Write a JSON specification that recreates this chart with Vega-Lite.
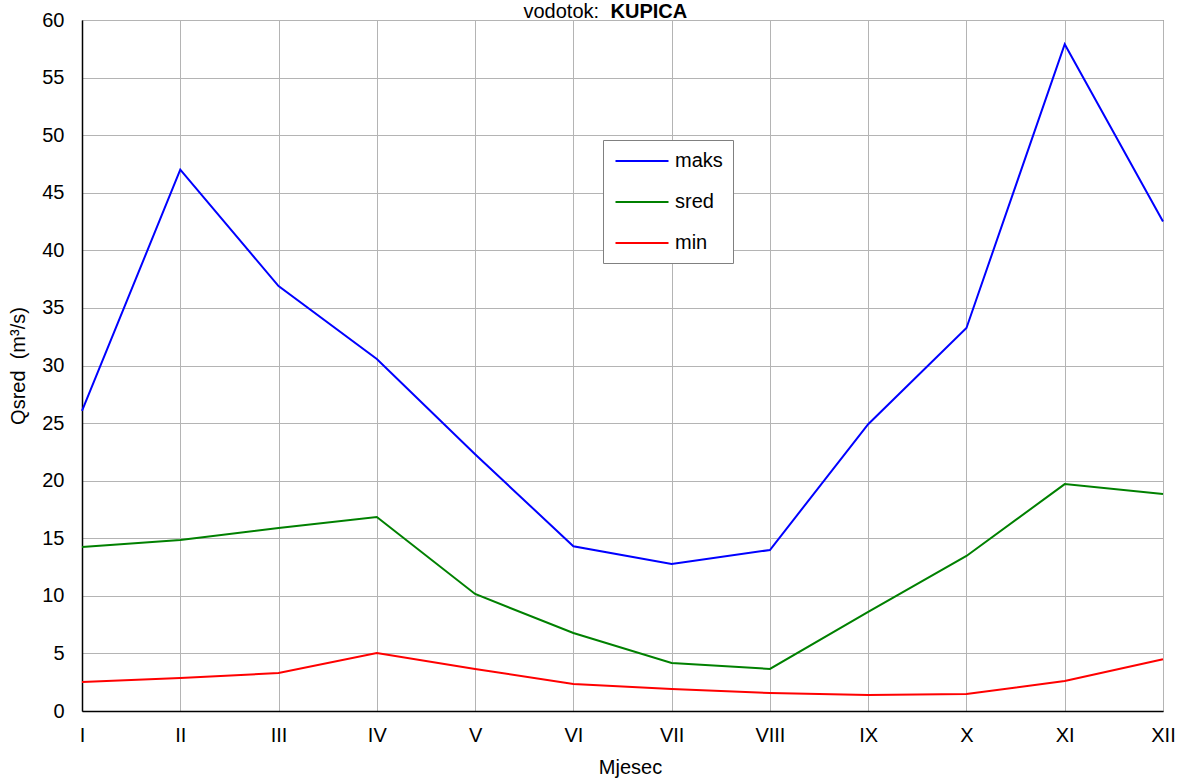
{
  "$schema": "https://vega.github.io/schema/vega-lite/v6.json",
  "autosize": "none",
  "width": 1081,
  "height": 691,
  "padding": {"left": 82, "top": 20, "right": 16, "bottom": 70},
  "background": "white",
  "config": {
    "font": "Liberation Sans",
    "view": {"stroke": "#555555", "strokeWidth": 1},
    "axis": {
      "labelFont": "Liberation Sans",
      "titleFont": "Liberation Sans",
      "labelColor": "black",
      "titleColor": "black",
      "labelFontSize": 20,
      "titleFontSize": 20,
      "titleFontWeight": "normal",
      "gridColor": "#b4b4b4",
      "gridWidth": 1,
      "gridOpacity": 1,
      "ticks": false,
      "domainColor": "black",
      "domainWidth": 1.5
    }
  },
  "data": {
    "values": [
      {"mjesec": "I", "serija": "maks", "q": 26.05},
      {"mjesec": "II", "serija": "maks", "q": 47.0},
      {"mjesec": "III", "serija": "maks", "q": 36.9},
      {"mjesec": "IV", "serija": "maks", "q": 30.56},
      {"mjesec": "V", "serija": "maks", "q": 22.3},
      {"mjesec": "VI", "serija": "maks", "q": 14.3},
      {"mjesec": "VII", "serija": "maks", "q": 12.76},
      {"mjesec": "VIII", "serija": "maks", "q": 13.98},
      {"mjesec": "IX", "serija": "maks", "q": 24.9},
      {"mjesec": "X", "serija": "maks", "q": 33.26},
      {"mjesec": "XI", "serija": "maks", "q": 57.9},
      {"mjesec": "XII", "serija": "maks", "q": 42.5},
      {"mjesec": "I", "serija": "sred", "q": 14.24},
      {"mjesec": "II", "serija": "sred", "q": 14.85},
      {"mjesec": "III", "serija": "sred", "q": 15.9},
      {"mjesec": "IV", "serija": "sred", "q": 16.85},
      {"mjesec": "V", "serija": "sred", "q": 10.16},
      {"mjesec": "VI", "serija": "sred", "q": 6.77},
      {"mjesec": "VII", "serija": "sred", "q": 4.17},
      {"mjesec": "VIII", "serija": "sred", "q": 3.65},
      {"mjesec": "IX", "serija": "sred", "q": 8.6},
      {"mjesec": "X", "serija": "sred", "q": 13.46},
      {"mjesec": "XI", "serija": "sred", "q": 19.7},
      {"mjesec": "XII", "serija": "sred", "q": 18.84},
      {"mjesec": "I", "serija": "min", "q": 2.52},
      {"mjesec": "II", "serija": "min", "q": 2.87},
      {"mjesec": "III", "serija": "min", "q": 3.3},
      {"mjesec": "IV", "serija": "min", "q": 5.04},
      {"mjesec": "V", "serija": "min", "q": 3.65},
      {"mjesec": "VI", "serija": "min", "q": 2.34},
      {"mjesec": "VII", "serija": "min", "q": 1.91},
      {"mjesec": "VIII", "serija": "min", "q": 1.56},
      {"mjesec": "IX", "serija": "min", "q": 1.39},
      {"mjesec": "X", "serija": "min", "q": 1.48},
      {"mjesec": "XI", "serija": "min", "q": 2.6},
      {"mjesec": "XII", "serija": "min", "q": 4.5}
    ]
  },
  "resolve": {"axis": {"x": "independent", "y": "independent"}},
  "layer": [
    {
      "mark": {"type": "line", "strokeWidth": 2},
      "encoding": {
        "x": {
          "field": "mjesec",
          "type": "ordinal",
          "sort": ["I", "II", "III", "IV", "V", "VI", "VII", "VIII", "IX", "X", "XI", "XII"],
          "scale": {"type": "point", "padding": 0},
          "axis": {
            "title": "Mjesec",
            "labelAngle": 0,
            "labelPadding": 14,
            "titlePadding": 12,
            "titleX": 548,
            "titleAlign": "center",
            "grid": true
          }
        },
        "y": {
          "field": "q",
          "type": "quantitative",
          "scale": {"domain": [0, 60], "nice": false, "zero": true},
          "axis": {
            "title": "Qsred\u00a0\u00a0(m³/s)",
            "values": [0, 5, 10, 15, 20, 25, 30, 35, 40, 45, 50, 55, 60],
            "labelPadding": 18,
            "titlePadding": 13,
            "grid": true
          }
        },
        "color": {
          "field": "serija",
          "type": "nominal",
          "scale": {"domain": ["maks", "sred", "min"], "range": ["#0000ff", "#008000", "#ff0000"]},
          "legend": {
            "title": null,
            "orient": "none",
            "legendX": 521,
            "legendY": 120,
            "fillColor": "white",
            "strokeColor": "#808080",
            "padding": 10,
            "symbolType": "M-2.65,0H2.65",
            "symbolSize": 400,
            "symbolStrokeWidth": 2,
            "symbolOffset": 18,
            "labelFont": "Liberation Sans",
            "labelFontSize": 20,
            "labelColor": "black",
            "labelOffset": 22,
            "rowPadding": 20
          }
        }
      }
    },
    {
      "transform": [{"filter": "datum.q < 0"}],
      "mark": {"type": "line"},
      "encoding": {
        "x": {
          "field": "mjesec",
          "type": "ordinal",
          "sort": ["I", "II", "III", "IV", "V", "VI", "VII", "VIII", "IX", "X", "XI", "XII"],
          "axis": {
            "orient": "top",
            "title": "vodotok:",
            "labels": false,
            "domain": false,
            "grid": false,
            "titleX": 441,
            "titleY": -3,
            "titleAlign": "left",
            "titleAnchor": "start",
            "titleBaseline": "alphabetic",
            "titleFontSize": 20
          }
        },
        "y": {
          "field": "q",
          "type": "quantitative",
          "axis": {
            "orient": "right",
            "title": "KUPICA",
            "labels": false,
            "domain": false,
            "grid": false,
            "titleAngle": 0,
            "titleX": -553,
            "titleY": -3,
            "titleAlign": "left",
            "titleAnchor": "start",
            "titleBaseline": "alphabetic",
            "titleFontSize": 20,
            "titleFontWeight": "bold"
          }
        }
      }
    }
  ]
}
